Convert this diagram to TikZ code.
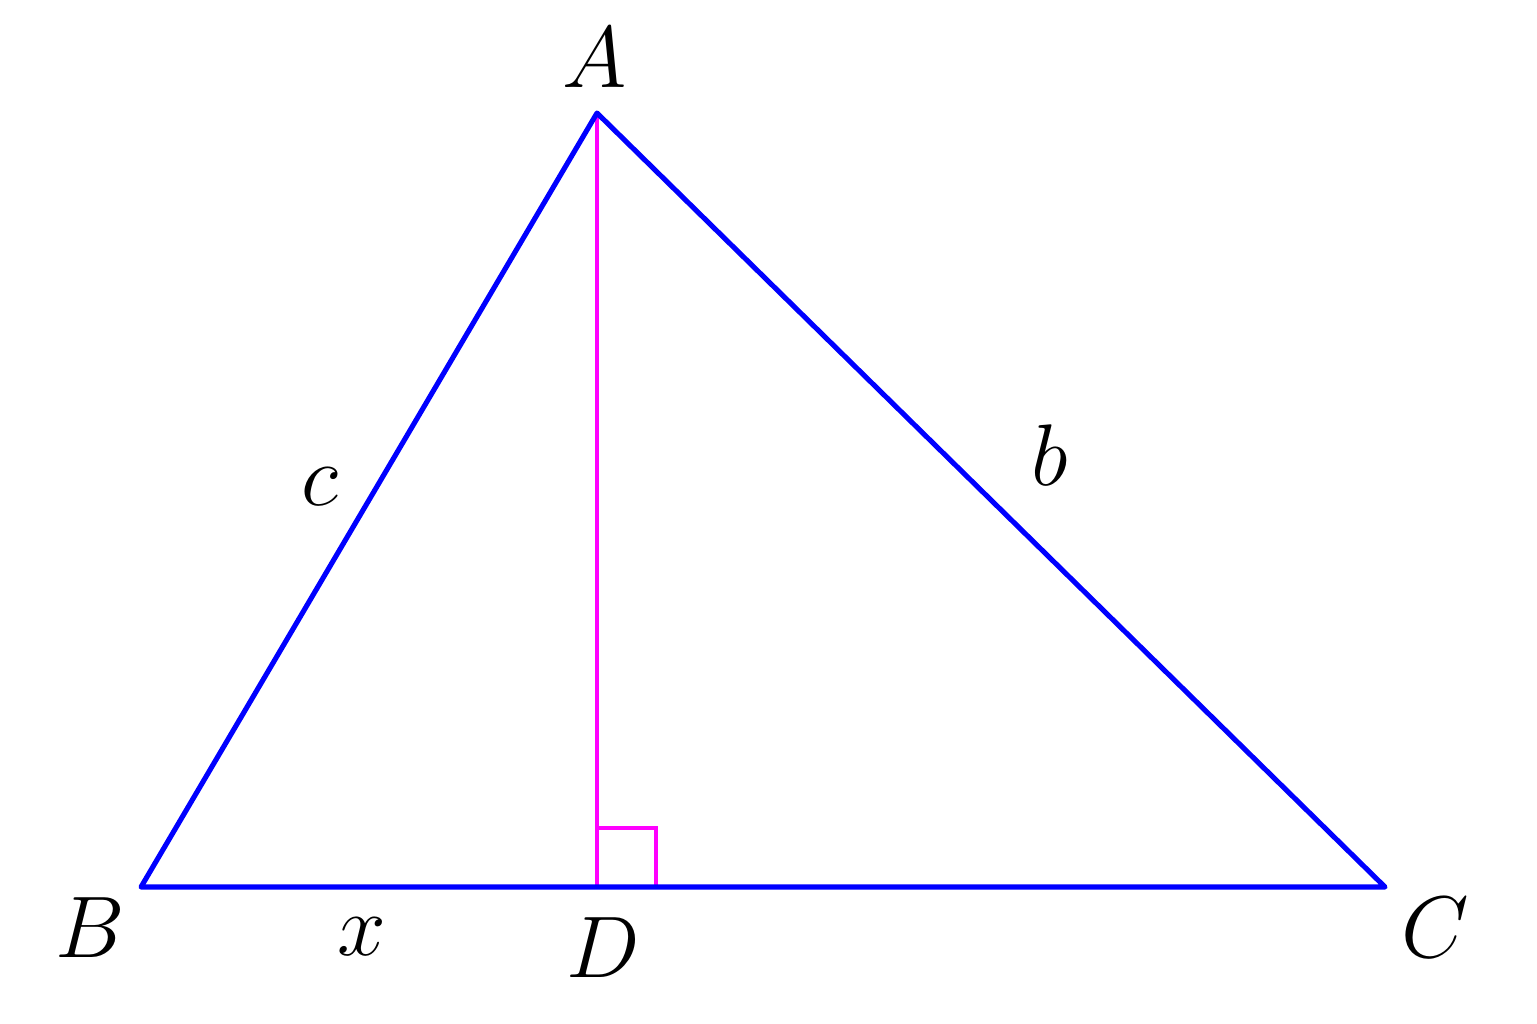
\documentclass[tikz,border=0pt]{standalone}
\begin{document}
\begin{tikzpicture}[x=0.01cm,y=-0.01cm,
  side/.style={draw={rgb,255:red,0;green,0;blue,255},line width=1.45pt,line join=round,line cap=round},
  alt/.style={draw={rgb,255:red,255;green,0;blue,255},line width=1.3pt},
  lbl/.style={inner sep=0pt,font=\fontsize{25}{30}\selectfont}]
\useasboundingbox (0,0) rectangle (1537,1023);
\coordinate (A) at (597,113);
\coordinate (B) at (141,887);
\coordinate (C) at (1385,887);
\coordinate (D) at (597,887);
\coordinate (E) at (597,828);
\coordinate (F) at (656,828);
\coordinate (G) at (656,887);
\draw[alt] (A) -- (D);
\draw[alt] (E) -- (F) -- (G);
\draw[side] (A) -- (B) -- (C) -- cycle;
\node[lbl] (lA) at (595,58) {$A$};
\node[lbl] (lB) at (90,928) {$B$};
\node[lbl] (lC) at (1435,928) {$C$};
\node[lbl] (lD) at (603,948) {$D$};
\node[lbl] (lc) at (320,487) {$c$};
\node[lbl] (lb) at (1050,455) {$b$};
\node[lbl] (lx) at (362,937) {$x$};
\end{tikzpicture}
\end{document}
